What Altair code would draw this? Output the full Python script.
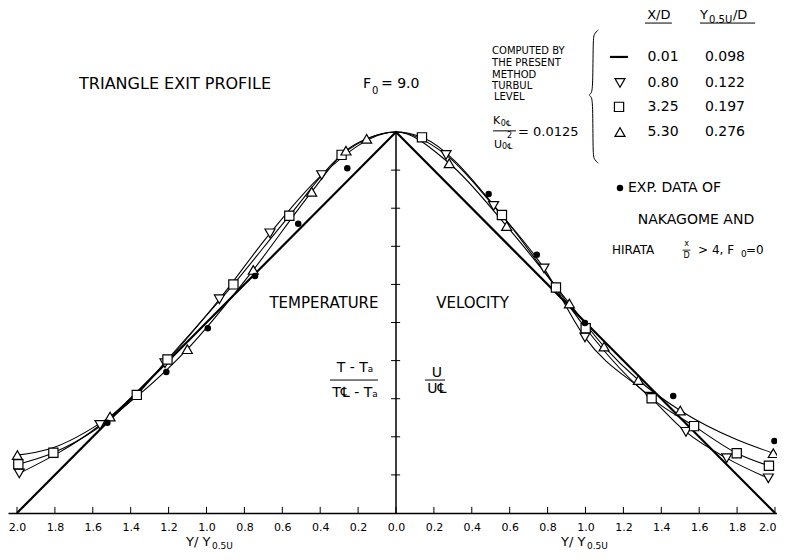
import altair as alt
import pandas as pd

# ---------------- data ----------------
tick_values = [-2.0, -1.8, -1.6, -1.4, -1.2, -1.0, -0.8, -0.6, -0.4, -0.2, 0.0,
               0.2, 0.4, 0.6, 0.8, 1.0, 1.2, 1.4, 1.6, 1.8, 2.0]
y_ticks = [0.1, 0.2, 0.3, 0.4, 0.5, 0.6, 0.7, 0.8, 0.9]

# X/D = 0.01 : triangle exit profile
tri_x = [-2.0, 0.0, 2.0]
tri_y = [0.0, 1.0, 0.0]

# X/D = 0.80 (triangle-down)
down_x = [-1.988, -1.562, -1.219, -0.932, -0.665, -0.392, 0.0,
          0.264, 0.515, 0.781, 0.997, 1.340, 1.530, 1.745, 1.965]
down_y = [0.104, 0.231, 0.393, 0.561, 0.734, 0.887, 1.0,
          0.940, 0.806, 0.642, 0.461, 0.305, 0.213, 0.144, 0.091]
down_mark = [1, 1, 1, 1, 1, 1, 0, 1, 1, 1, 1, 1, 1, 1, 1]

# X/D = 3.25 (square)
sq_x = [-1.993, -1.808, -1.368, -1.206, -0.858, -0.563, -0.287, 0.0,
        0.137, 0.559, 0.844, 1.001, 1.349, 1.573, 1.798, 1.968]
sq_y = [0.128, 0.158, 0.310, 0.403, 0.600, 0.780, 0.940, 1.0,
        0.986, 0.782, 0.592, 0.485, 0.301, 0.228, 0.157, 0.124]
sq_mark = [1, 1, 1, 1, 1, 1, 1, 0, 1, 1, 1, 1, 1, 1, 1, 1]

# X/D = 5.30 (triangle-up)
up_x = [-1.998, -1.830, -1.509, -1.101, -0.753, -0.445, -0.264, -0.155, 0.0,
        0.281, 0.584, 0.915, 1.098, 1.279, 1.500, 1.800, 1.991]
up_y = [0.152, 0.168, 0.253, 0.430, 0.638, 0.843, 0.951, 0.982, 1.0,
        0.918, 0.753, 0.550, 0.437, 0.349, 0.269, 0.192, 0.157]
up_mark = [1, 0, 1, 1, 1, 1, 1, 1, 0, 1, 1, 1, 1, 1, 1, 0, 1]

# Experimental data of Nakagome and Hirata
exp_x = [-1.523, -1.212, -0.993, -0.744, -0.516, -0.257,
         0.489, 0.743, 0.997, 1.463, 1.997]
exp_y = [0.237, 0.370, 0.485, 0.622, 0.759, 0.905,
         0.837, 0.678, 0.499, 0.307, 0.189]

legend_xd = ["0.01", "0.80", "3.25", "5.30"]
legend_y05 = ["0.098", "0.122", "0.197", "0.276"]

# ---------------- scales / helpers ----------------
FONT = "DejaVu Sans"
xs = alt.Scale(domain=[-2.0475, 2.0106], nice=False, zero=False)
ys = alt.Scale(domain=[0.0, 1.3255], nice=False, zero=False)

x_axis = alt.Axis(values=tick_values, labelExpr="format(abs(datum.value), '.1f')",
                  ticks=False, grid=False, domain=True, domainColor="black",
                  domainWidth=1.5, labelFontSize=11, labelColor="black",
                  labelPadding=8, labelFlush=5, labelFlushOffset=1,
                  labelFont=FONT, title=None)


def X(f="x"):
    return alt.X(f"{f}:Q", scale=xs, axis=x_axis)


def Y(f="y"):
    return alt.Y(f"{f}:Q", scale=ys, axis=None)


def series_df(name, xv, yv, mv):
    return pd.DataFrame({"x": xv, "y": yv, "m": mv, "series": name})


layers = []

# x-axis inner ticks
tick_df = pd.DataFrame({"x": tick_values, "y0": 0.0, "y1": 0.016})
layers.append(alt.Chart(tick_df).mark_rule(color="black", strokeWidth=1)
              .encode(x=X(), y=Y("y0"), y2="y1:Q"))

# central vertical axis with crossing ticks
vax = pd.DataFrame({"x": [0.0], "y0": [0.0], "y1": [1.0]})
layers.append(alt.Chart(vax).mark_rule(color="black", strokeWidth=1.5)
              .encode(x=X(), y=Y("y0"), y2="y1:Q"))
ytk = pd.DataFrame({"y": y_ticks, "xa": -0.026, "xb": 0.022})
layers.append(alt.Chart(ytk).mark_rule(color="black", strokeWidth=1)
              .encode(x=X("xa"), x2="xb:Q", y=Y()))

# computed curves
curves = pd.concat([series_df("0.80", down_x, down_y, down_mark),
                    series_df("3.25", sq_x, sq_y, sq_mark),
                    series_df("5.30", up_x, up_y, up_mark)])
layers.append(alt.Chart(curves).mark_line(interpolate="monotone", color="black",
                                          strokeWidth=1.1)
              .encode(x=X(), y=Y(), detail="series:N"))

tri = pd.DataFrame({"x": tri_x, "y": tri_y})
layers.append(alt.Chart(tri).mark_line(color="black", strokeWidth=2.2)
              .encode(x=X(), y=Y()))

# markers
SYM = {"0.80": ("triangle-down", 100), "3.25": ("square", 85),
       "5.30": ("triangle-up", 100)}
for name, (shp, sz) in SYM.items():
    d = curves[(curves.series == name) & (curves.m == 1)]
    layers.append(alt.Chart(d).mark_point(shape=shp, size=sz, filled=True,
                                          fill="white", stroke="black",
                                          strokeWidth=1.2, opacity=1)
                  .encode(x=X(), y=Y()))

expdf = pd.DataFrame({"x": exp_x, "y": exp_y})
layers.append(alt.Chart(expdf).mark_point(shape="circle", size=42, filled=True,
                                          color="black", opacity=1)
              .encode(x=X(), y=Y()))


# ---------------- annotations ----------------
def txt(t, x, y, size=12, align="left"):
    d = pd.DataFrame({"x": [x], "y": [y], "t": [t]})
    return (alt.Chart(d).mark_text(align=align, baseline="middle", fontSize=size,
                                   color="black", font=FONT)
            .encode(x=X(), y=Y(), text="t:N"))


def seg(x1, x2, y, w=1.0):
    d = pd.DataFrame({"x": [x1], "xe": [x2], "y": [y]})
    return (alt.Chart(d).mark_rule(color="black", strokeWidth=w)
            .encode(x=X(), x2="xe:Q", y=Y()))


ann = [
    txt("TRIANGLE EXIT PROFILE", -1.166, 1.126, 16, "center"),
    txt("F", -0.174, 1.126, 14), txt("0", -0.127, 1.108, 10),
    txt("= 9.0", -0.079, 1.126, 14),
    txt("TEMPERATURE", -0.380, 0.551, 15, "center"),
    txt("VELOCITY", 0.404, 0.551, 15, "center"),
    txt("T - T\u2090", -0.216, 0.381, 14, "center"),
    seg(-0.348, -0.095, 0.349),
    txt("T\u2104 - T\u2090", -0.216, 0.315, 14, "center"),
    txt("U", 0.216, 0.368, 14, "center"),
    seg(0.153, 0.259, 0.349),
    txt("U\u2104", 0.216, 0.326, 14, "center"),
    # axis titles (one under each half)
    txt("Y/ Y", -1.108, -0.0761, 13), txt("0.5U", -0.971, -0.0866, 9),
    txt("Y/ Y", 0.871, -0.0761, 13), txt("0.5U", 1.008, -0.0866, 9),
    # legend block
    txt("X/D", 1.387, 1.307, 13, "center"), seg(1.314, 1.456, 1.286),
    txt("Y", 1.604, 1.307, 13), txt("0.5U", 1.652, 1.294, 10),
    txt("/D", 1.778, 1.307, 13), seg(1.604, 1.895, 1.286),
    txt("COMPUTED BY", 0.507, 1.2126, 10), txt("THE PRESENT", 0.507, 1.181, 10),
    txt("METHOD", 0.507, 1.150, 10), txt("TURBUL", 0.507, 1.121, 10),
    txt("LEVEL", 0.517, 1.092, 10),
    txt("K", 0.512, 1.030, 11), txt("0\u2104", 0.553, 1.022, 8),
    seg(0.512, 0.633, 1.003),
    txt("= 0.0125", 0.644, 1.000, 13),
    txt("U", 0.517, 0.966, 11), txt("0\u2104", 0.560, 0.960, 8),
    txt("2", 0.586, 0.990, 8),
    seg(1.129, 1.224, 1.197, 2.2),
    txt("EXP. DATA OF", 1.224, 0.853, 14), txt("NAKAGOME AND", 1.276, 0.769, 14),
    txt("HIRATA", 1.140, 0.690, 12), txt("x", 1.533, 0.705, 8, "center"),
    seg(1.512, 1.554, 0.690, 0.8), txt("D", 1.533, 0.674, 8, "center"),
    txt("> 4, F", 1.594, 0.690, 12), txt("0", 1.821, 0.680, 9),
    txt("=0", 1.847, 0.690, 12),
]
row_y = [1.197, 1.129, 1.066, 1.000]
for a, b, yy in zip(legend_xd, legend_y05, row_y):
    ann.append(txt(a, 1.409, yy, 14, "center"))
    ann.append(txt(b, 1.736, yy, 14, "center"))
layers += ann

leg_sym = [("triangle-down", 100, 1.182, 1.129), ("square", 85, 1.177, 1.066),
           ("triangle-up", 100, 1.182, 1.000)]
for shp, sz, lx, ly in leg_sym:
    d = pd.DataFrame({"x": [lx], "y": [ly]})
    layers.append(alt.Chart(d).mark_point(shape=shp, size=sz, filled=True,
                                          fill="white", stroke="black",
                                          strokeWidth=1.2, opacity=1)
                  .encode(x=X(), y=Y()))
d = pd.DataFrame({"x": [1.182], "y": [0.853]})
layers.append(alt.Chart(d).mark_point(shape="circle", size=42, filled=True,
                                      color="black", opacity=1)
              .encode(x=X(), y=Y()))

# curly brace
brace_x = [1.0675, 1.046, 1.040, 1.039, 1.030, 1.015, 1.030, 1.039, 1.039, 1.046, 1.0675]
brace_y = [1.268, 1.258, 1.245, 1.115, 1.100, 1.097, 1.094, 1.079, 0.940, 0.928, 0.918]
bdf = pd.DataFrame({"x": brace_x, "y": brace_y, "o": list(range(len(brace_x)))})
layers.append(alt.Chart(bdf).mark_line(color="black", strokeWidth=1, interpolate="basis")
              .encode(x=X(), y=Y(), order="o:Q"))

chart = (alt.layer(*layers)
         .properties(width=769, height=505, background="white",
                     autosize=alt.AutoSizeParams(type="none"),
                     padding={"left": 0, "top": 0, "right": 0, "bottom": 38})
         .configure_view(stroke=None))

chart.save("out.html", embed_options={"renderer": "svg", "actions": False})
